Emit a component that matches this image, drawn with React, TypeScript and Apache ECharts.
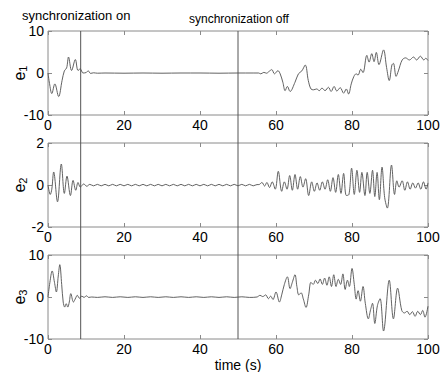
import React, { useEffect, useRef } from "react";
import * as echarts from "echarts";

// ---- data (time in s, error value) ----
const timeTicks = [0, 20, 40, 60, 80, 100];
const syncOnTime = 8.6;
const syncOffTime = 50;
const seriesNames = ["e1", "e2", "e3"];
const yLimits: [number, number, number][] = [
  [-10, 10, 10],
  [-2, 2, 2],
  [-10, 10, 10],
];

const e1Points: [number, number][] = [
  [0, 0], [0.4, -2.5], [1.0, -4.9], [1.8, -2.6], [2.8, -5.6], [3.7, -1.8], [4.3, 0.5],
  [4.9, 1.2], [5.4, 3.8], [6.2, 0.6], [7.2, 3.2], [7.9, 0.6], [8.5, 1.0], [9.2, 0],
  [10.0, 0.1], [10.6, 0.5], [11.2, -0.1], [12, 0.05], [13, -0.05], [15, 0], [20, -0.05],
  [25, 0], [30, -0.05], [35, 0], [40, 0], [45, -0.05], [50, 0], [54, 0], [55.4, 0],
  [56, -0.2], [56.8, 0.15], [57.5, -0.05], [58.2, 0.4], [58.9, 0.8], [59.6, -0.2],
  [60.5, 0.55], [61.1, -0.2], [61.8, -2.2], [62.4, -4.2], [63.0, -3.2], [63.7, -4.4],
  [65.0, -2.2], [65.9, -0.2], [66.8, 0.5], [67.7, 1.9], [68.5, -1.8], [69.2, -3.8],
  [69.9, -4.0], [70.7, -3.8], [71.4, -4.2], [72.1, -3.6], [72.9, -4.2], [73.8, -3.4],
  [74.5, -4.4], [75.3, -3.2], [76.0, -4.3], [76.9, -3.5], [77.8, -4.8], [78.5, -3.8],
  [79.1, -5.0], [79.8, -2.6], [80.5, -0.8], [81.1, -0.2], [81.6, -0.5], [82.3, 0.9],
  [82.9, 0.1], [83.9, 4.2], [84.5, 2.6], [85.2, 4.6], [85.8, 2.7], [86.4, 4.9], [87.1, 2.0],
  [88.3, 5.5], [89.1, 1.3], [89.8, -1.8], [90.5, 1.9], [90.9, 2.3], [91.6, -0.8], [92.2, 0.5],
  [93.2, 3.1], [94.1, 3.6], [95.1, 3.1], [96.2, 3.8], [97.0, 3.1], [98.0, 4.0], [98.9, 3.1],
  [99.4, 3.5], [100, 3.0],
];

const e2Points: [number, number][] = [
  [0, 0], [0.6, -0.45], [1.0, -0.2], [1.5, 0.62], [2.5, -0.8], [3.5, 1.0], [4.3, -0.4],
  [5.0, 0.42], [5.9, -0.5], [6.6, 0.22], [7.3, -0.25], [7.9, 0.12], [8.5, -0.1], [9.4, 0.05],
  [10.2, -0.06], [11, 0.03], [12, -0.04], [13, 0.03], [14, -0.04], [15, 0.03], [16, -0.04],
  [17, 0.03], [18, -0.04], [19, 0.03], [20, -0.04], [21, 0.03], [22, -0.04], [23, 0.03],
  [24, -0.04], [25, 0.03], [26, -0.04], [27, 0.03], [28, -0.04], [29, 0.03], [30, -0.04],
  [31, 0.03], [32, -0.04], [33, 0.03], [34, -0.04], [35, 0.03], [36, -0.04], [37, 0.03],
  [38, -0.04], [39, 0.03], [40, -0.04], [41, 0.03], [42, -0.04], [43, 0.03], [44, -0.04],
  [45, 0.03], [46, -0.04], [47, 0.03], [48, -0.04], [49, 0.03], [50, -0.04], [51, 0.03],
  [52, -0.04], [53, 0.03], [54, -0.04], [55, 0.02], [55.5, 0.02], [56.3, 0.12], [57, -0.05],
  [57.6, 0.12], [58.3, -0.12], [59, 0.15], [59.8, -0.2], [60.6, 0.65], [61.5, -0.3],
  [62.2, 0.15], [62.9, -0.2], [63.6, 0.45], [64.3, -0.25], [65.0, 0.5], [65.7, -0.2],
  [66.4, 0.4], [67.1, -0.1], [67.8, 0.3], [68.6, -0.5], [69.4, 0.15], [70.1, -0.3],
  [70.8, 0.1], [71.5, -0.25], [72.2, 0.15], [72.9, -0.2], [73.6, 0.25], [74.3, -0.3],
  [75, 0.35], [75.7, -0.35], [76.4, 0.5], [77.1, -0.4], [77.8, 0.55], [78.5, -0.5],
  [79.2, -0.45], [79.9, 0.8], [80.6, -0.45], [81.3, 0.7], [82, -0.35], [82.6, 0.6],
  [83.4, -0.5], [84.0, 0.6], [84.7, -0.4], [85.4, 0.7], [86.0, -0.55], [86.6, 0.6],
  [87.2, -0.7], [87.9, 0.85], [88.6, -0.6], [89.3, -1.1], [90.4, 0.95], [91.2, -0.45],
  [91.8, 0.2], [92.4, -0.1], [93.2, 0.2], [93.9, -0.25], [94.6, 0.15], [95.3, -0.2],
  [96, 0.1], [96.7, -0.15], [97.4, 0.1], [98.1, -0.2], [98.8, 0.15], [99.5, -0.2], [100, 0.1],
];

const e3Points: [number, number][] = [
  [0, 0], [0.5, 3.5], [1.1, 6.2], [1.7, 3.5], [2.2, 1.2], [2.7, 5], [3.1, 7.7], [3.6, 3],
  [4.0, -1.2], [4.4, -2.4], [4.8, -1.6], [5.2, -2.4], [5.6, -1.2], [6.0, 0.8], [6.7, -1.2],
  [7.3, -0.2], [7.7, 0.4], [8.3, -0.3], [8.9, 0.2], [9.5, -0.1], [10.1, 0.3], [10.7, -0.1],
  [11.5, 0], [13, -0.1], [15, 0.05], [17, -0.1], [19, 0.05], [21, -0.1], [23, 0.05],
  [25, -0.1], [27, 0.05], [29, -0.1], [31, 0.05], [33, -0.1], [35, 0.05], [37, -0.1],
  [39, 0.05], [41, -0.1], [43, 0.05], [45, -0.1], [47, 0.05], [49, -0.1], [51, 0.05],
  [53, -0.1], [55, 0], [55.8, 0.4], [56.5, 0.1], [57.3, 0.5], [58.0, -0.4], [58.6, 0.2],
  [59.2, -0.6], [60.0, 1.2], [60.9, -1.2], [61.5, 0.5], [62.2, 3], [63.0, 4.8], [63.7, 2],
  [64.3, 3.5], [65.0, 5.3], [65.5, 2.5], [66.0, 0.5], [66.6, 1], [67.2, -0.5], [67.9, -2.5],
  [68.6, 0.5], [69.2, 3.5], [69.8, 3], [70.4, 4], [71, 3.2], [71.6, 4.3], [72.2, 3],
  [72.8, 4.5], [73.4, 2.8], [74, 4.8], [74.6, 2.5], [75.2, 5.3], [75.8, 2.5], [76.4, 4.2],
  [77, 3], [77.6, 5.5], [78.2, 1.8], [78.8, 4], [79.3, 2.5], [80.0, 6.8], [80.6, 3],
  [81.1, -0.5], [81.6, 1.5], [82.2, -1], [82.9, 2.5], [83.5, -1.5], [84.3, -5.2],
  [84.9, -3], [85.4, -1.5], [86.0, -6.3], [86.7, -2], [87.4, -0.4], [88.3, -8.1],
  [89.8, 4], [90.9, -5.2], [92.0, 2.1], [93.1, -3.2], [93.8, -3.8], [94.5, -3.4],
  [95.2, -4.2], [95.9, -3.5], [96.6, -4.6], [97.3, -3.4], [98.0, -4.2], [98.6, -3.2],
  [99.2, -4.8], [100, -2.2],
];

const allPoints = [e1Points, e2Points, e3Points];

const FONT = "'Liberation Sans', Arial, Helvetica, sans-serif";
const GRID_TOPS = [31, 143, 255];
const GRID_H = 84;
const AX_COLOR = "#8a8a8a";

export default function App() {
  const ref = useRef<HTMLDivElement>(null);
  useEffect(() => {
    if (!ref.current) return;
    const chart = echarts.init(ref.current, null, { renderer: "svg" });
    const grids = GRID_TOPS.map((t) => ({
      left: 48,
      right: 14,
      top: t,
      height: GRID_H,
      show: true,
      borderColor: AX_COLOR,
      borderWidth: 1,
      backgroundColor: "transparent",
      containLabel: false,
      outerBoundsMode: "none",
    }));
    const xAxes: any[] = [];
    const yAxes: any[] = [];
    const series: any[] = [];
    for (let i = 0; i < 3; i++) {
      const [ymin, ymax, yint] = yLimits[i];
      xAxes.push({
        gridIndex: i,
        type: "value",
        min: timeTicks[0],
        max: timeTicks[timeTicks.length - 1],
        interval: timeTicks[1] - timeTicks[0],
        position: "bottom",
        axisLine: { show: false, onZero: false },
        axisTick: { inside: true, length: 4, lineStyle: { color: AX_COLOR } },
        axisLabel: { fontSize: 14, color: "#000", fontFamily: FONT, margin: 3, showMinLabel: true, showMaxLabel: true },
        splitLine: { show: false },
        name: i === 2 ? "time (s)" : "",
        nameLocation: "middle",
        nameGap: 19,
        nameTextStyle: { fontSize: 14, color: "#000", fontFamily: FONT },
      });
      xAxes.push({
        gridIndex: i,
        type: "value",
        min: timeTicks[0],
        max: timeTicks[timeTicks.length - 1],
        interval: timeTicks[1] - timeTicks[0],
        position: "top",
        axisLine: { show: false, onZero: false },
        axisTick: { inside: true, length: 4, lineStyle: { color: AX_COLOR } },
        axisLabel: { show: false },
        splitLine: { show: false },
      });
      yAxes.push({
        gridIndex: i,
        type: "value",
        min: ymin,
        max: ymax,
        interval: yint,
        position: "left",
        axisLine: { show: false, onZero: false },
        axisTick: { inside: true, length: 4, lineStyle: { color: AX_COLOR } },
        axisLabel: { fontSize: 14, color: "#000", fontFamily: FONT, margin: 4, showMinLabel: true, showMaxLabel: true },
        splitLine: { show: false },
        name: `{e|e}{s|${i + 1}}`,
        nameLocation: "middle",
        nameRotate: 90,
        nameGap: 20,
        nameMoveOverlap: false,
        nameTextStyle: {
          fontFamily: FONT,
          color: "#000",
          rich: {
            e: { fontSize: 16, fontFamily: FONT, color: "#000", lineHeight: 18 },
            s: { fontSize: 11, fontFamily: FONT, color: "#000", lineHeight: 18, verticalAlign: "bottom", padding: [8, 0, 0, 0] },
          },
        },
      });
      yAxes.push({
        gridIndex: i,
        type: "value",
        min: ymin,
        max: ymax,
        interval: yint,
        position: "right",
        axisLine: { show: false, onZero: false },
        axisTick: { inside: true, length: 4, lineStyle: { color: AX_COLOR } },
        axisLabel: { show: false },
        splitLine: { show: false },
      });
      series.push({
        name: seriesNames[i],
        type: "line",
        xAxisIndex: 2 * i,
        yAxisIndex: 2 * i,
        data: allPoints[i],
        showSymbol: false,
        smooth: 0.35,
        lineStyle: { color: "#505050", width: 0.9 },
        clip: true,
      });
    }
    chart.setOption({
      animation: false,
      grid: grids,
      xAxis: xAxes,
      yAxis: yAxes,
      series,
    });
    const yTop = chart.convertToPixel({ yAxisIndex: 0 }, yLimits[0][1]) as number;
    const yBot = chart.convertToPixel({ yAxisIndex: 4 }, yLimits[2][0]) as number;
    const vLines = [syncOnTime, syncOffTime].map((t) => {
      const x = chart.convertToPixel({ xAxisIndex: 0 }, t) as number;
      return {
        type: "line",
        shape: { x1: x, y1: yTop, x2: x, y2: yBot },
        style: { stroke: "#555", lineWidth: 1 },
        silent: true,
      };
    });
    chart.setOption({
      graphic: [
        ...vLines,
        {
          type: "text",
          left: 22,
          top: 9,
          style: { text: "synchronization on", fontSize: 13, fontFamily: FONT, fill: "#000" },
        },
        {
          type: "text",
          left: 189,
          top: 13,
          style: { text: "synchronization off", fontSize: 12, fontFamily: FONT, fill: "#000" },
        },
      ],
    });
    return () => chart.dispose();
  }, []);
  return (
    <div
      ref={ref}
      style={{ position: "absolute", left: 0, top: 0, width: 442, height: 372, background: "#fff" }}
    />
  );
}
